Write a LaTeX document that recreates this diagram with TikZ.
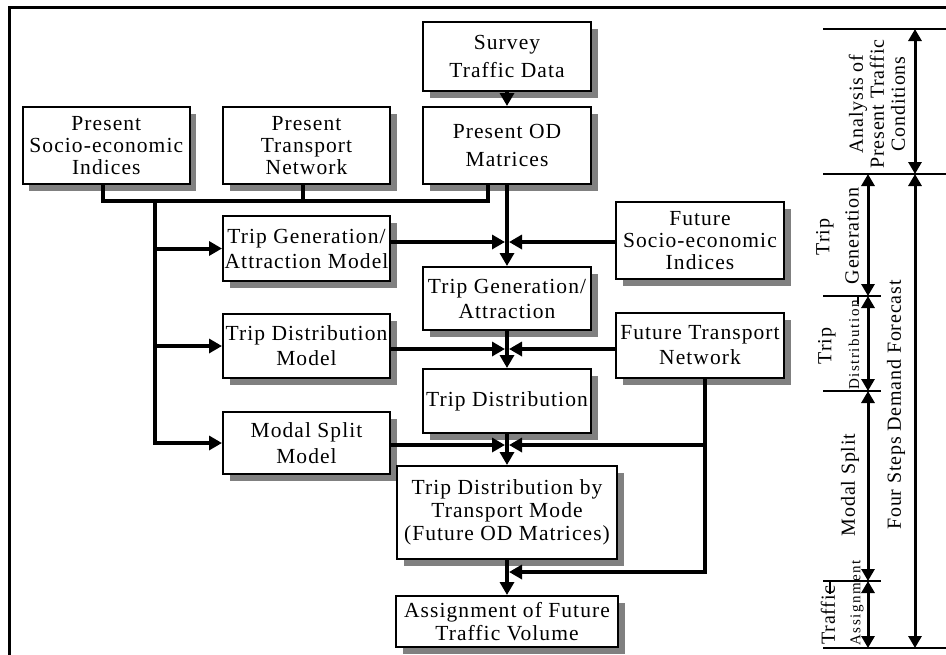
\documentclass[tikz,border=0pt]{standalone}
\usepackage{fontspec}
\setmainfont{Liberation Serif}
\newfontfamily\boxfont[LetterSpace=5]{Liberation Serif}
\newfontfamily\labelfont[LetterSpace=4]{Liberation Serif}
\newfontfamily\narrowfont[LetterSpace=10]{Liberation Serif}
\usetikzlibrary{arrows.meta,shadows}

\begin{document}
\begin{tikzpicture}[x=1pt,y=-1pt,
  box/.style={draw=black, line width=2pt, fill=white, inner sep=0pt, align=center,
    drop shadow={shadow xshift=6.5pt, shadow yshift=-6.5pt, fill=black!50, opacity=1},
    font={\boxfont\fontsize{21.5}{22.3}\selectfont}},
  conn/.style={line width=4pt},
  arr/.style={conn, -{Triangle[length=13pt,width=14pt]}},
  tickline/.style={line width=1.5pt},
  dimarrow/.style={line width=3pt,
    {Triangle[length=12pt,width=13pt]}-{Triangle[length=12pt,width=13pt]}},
  vlabel/.style={rotate=90, align=center, inner sep=0pt,
    font={\labelfont\fontsize{20}{21}\selectfont}},
  vsmall/.style={rotate=90, align=center, inner sep=0pt,
    font={\narrowfont\fontsize{15}{17}\selectfont}},
]
\useasboundingbox (0,0) rectangle (946,654);

% outer frame
\draw[line width=2.2pt] (9.5,660) -- (9.5,7.5) -- (950,7.5);

% process boxes
\node[box, minimum width=167pt, minimum height=77pt] (psi) at (106.3,145.5) {Present\\Socio-economic\\Indices};
\node[box, minimum width=167pt, minimum height=77pt] (ptn) at (306.5,145.5) {Present\\Transport\\Network};
\node[box, minimum width=168pt, minimum height=69pt] (std) at (507,56.5) {Survey\\[5.2pt]Traffic Data};
\node[box, minimum width=168pt, minimum height=77pt] (pod) at (507,145.5) {Present OD\\[6pt]Matrices};
\node[box, minimum width=167pt, minimum height=65pt] (tgm) at (306.5,248.5) {Trip Generation/\\[2.7pt]Attraction Model};
\node[box, minimum width=168pt, minimum height=63pt] (tga) at (507,298.5) {Trip Generation/\\[2.7pt]Attraction};
\node[box, minimum width=168pt, minimum height=77pt] (fsi) at (700,240.5) {Future\\Socio-economic\\Indices};
\node[box, minimum width=167pt, minimum height=64pt] (tdm) at (306.5,346) {Trip Distribution\\[2.7pt]Model};
\node[box, minimum width=168pt, minimum height=65pt] (ftn) at (700,345.5) {Future Transport\\[2.7pt]Network};
\node[box, minimum width=168pt, minimum height=64pt] (td) at (507,401) {Trip Distribution};
\node[box, minimum width=167pt, minimum height=62pt] (msm) at (306.5,443) {Modal Split\\[3.3pt]Model};
\node[box, minimum width=220pt, minimum height=93pt] (tdtm) at (507,512.5) {Trip Distribution by\\[0.7pt]Transport Mode\\[0.7pt](Future OD Matrices)};
\node[box, minimum width=222pt, minimum height=51pt] (afv) at (507,621.5) {Assignment of Future\\Traffic Volume};

% collecting bus of the present data
\coordinate (bus) at (155,201);
\coordinate (sitap) at ([xshift=-3pt]psi.south);
\coordinate (pttap) at ([xshift=-3.5pt]ptn.south);
\coordinate (odtap) at ([xshift=-19pt]pod.south);
\draw[conn] (sitap) |- (bus -| odtap) -- (odtap);
\draw[conn] (pttap) -- (pttap |- bus);

% feeds into the models
\draw[arr] (bus) |- (msm.west);
\draw[arr] (bus |- tgm.west) -- (tgm.west);
\draw[arr] (bus |- tdm.west) -- (tdm.west);

% main chain
\draw[arr] (std) -- (pod);
\draw[arr] (pod) -- (tga);
\draw[arr] (tga) -- (td);
\draw[arr] (td) -- (tdtm);
\draw[arr] (tdtm) -- (afv);

% side inputs meeting the chain
\coordinate (j1) at (507,242);
\coordinate (j2) at (507,349);
\coordinate (j3) at (507,445);
\coordinate (j4) at (507,572);
\coordinate (ftap) at ([xshift=5pt]ftn.south);
\draw[arr] (tgm.east |- j1) -- ([xshift=-2pt]j1);
\draw[arr] (fsi.west |- j1) -- ([xshift=2pt]j1);
\draw[arr] (tdm.east |- j2) -- ([xshift=-2pt]j2);
\draw[arr] (ftn.west |- j2) -- ([xshift=2pt]j2);
\draw[arr] (msm.east |- j3) -- ([xshift=-2pt]j3);
\draw[arr] (ftap) |- ([xshift=2pt]j4);
\draw[arr] (ftap |- j3) -- ([xshift=2pt]j3);

% stage scale
\foreach \yy/\xe in {29/950, 174/950, 296/881, 391/881, 581/881, 648/950}
  \draw[tickline] (823,\yy) -- (\xe,\yy);
\draw[tickline] (858,296) -- (858,304);
\draw[tickline] (830,581) -- (830,594);

\draw[dimarrow] (915,29) -- (915,174);
\draw[dimarrow] (915,174) -- (915,648);
\draw[dimarrow] (868,174) -- (868,296);
\draw[dimarrow] (868,296) -- (868,391);
\draw[dimarrow] (868,391) -- (868,581);
\draw[dimarrow] (868,581) -- (868,648);

\node[vlabel] (lana) at (877,104) {Analysis of\\Present Traffic\\Conditions};
\node[vlabel] (lgen1) at (825,237) {Trip};
\node[vlabel] (lgen2) at (852,236) {Generation};
\node[vlabel] (ldis1) at (827,346) {Trip};
\node[vsmall] (ldis2) at (854,345) {Distribution};
\node[vlabel] (lmod) at (850,485) {Modal Split};
\node[vlabel] (lfour) at (896,405) {Four Steps Demand Forecast};
\node[vlabel] (lasg1) at (828,615) {Traffic};
\node[vsmall] (lasg2) at (857,603) {Assignment};
\end{tikzpicture}
\end{document}
